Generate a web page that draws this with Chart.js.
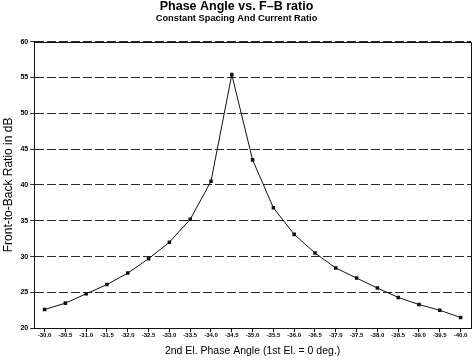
<!DOCTYPE html>
<html>
<head>
<meta charset="utf-8">
<script src="https://cdn.jsdelivr.net/npm/chart.js@4/dist/chart.umd.min.js"></script>
<style>
  html, body { margin: 0; padding: 0; background: #fff; }
  canvas { display: block; }
</style>
</head>
<body>
<canvas id="fb-chart" width="475" height="361"></canvas>
<script>
// phase angle of 2nd element (deg)
const phaseAngles = ['-30.0', '-30.5', '-31.0', '-31.5', '-32.0', '-32.5', '-33.0', '-33.5', '-34.0', '-34.5',
    '-35.0', '-35.5', '-36.0', '-36.5', '-37.0', '-37.5', '-38.0', '-38.5', '-39.0', '-39.5', '-40.0'];
// front-to-back ratio in dB
const fbRatio = [22.6, 23.5, 24.8, 26.1, 27.7, 29.7, 32.0, 35.2, 40.5, 55.4,
    43.5, 36.8, 33.1, 30.5, 28.4, 27.0, 25.6, 24.3, 23.3, 22.5, 21.5];
const yMin = 20, yMax = 60, yStep = 5;

const fontFam = '"Liberation Sans", Arial, Helvetica, sans-serif';

// solid frame on top and right of the plot area
const framePlugin = {
    id: 'frame',
    afterDraw(chart) {
        const a = chart.chartArea;
        const ctx = chart.ctx;
        ctx.save();
        ctx.strokeStyle = '#111';
        ctx.lineWidth = 1;
        ctx.beginPath();
        ctx.moveTo(a.left, Math.round(a.top) + 0.5);
        ctx.lineTo(Math.round(a.right) + 0.5, Math.round(a.top) + 0.5);
        ctx.lineTo(Math.round(a.right) + 0.5, a.bottom);
        ctx.stroke();
        ctx.restore();
    }
};

new Chart(document.getElementById('fb-chart'), {
    type: 'line',
    data: {
        labels: phaseAngles,
        datasets: [{
            label: 'F/B',
            data: fbRatio,
            borderColor: '#111',
            borderWidth: 1,
            backgroundColor: '#111',
            pointStyle: 'rect',
            pointRadius: 2.5,
            pointBorderWidth: 0,
            tension: 0
        }]
    },
    options: {
        responsive: false,
        animation: false,
        devicePixelRatio: 1,
        layout: { padding: { top: 0, right: 3, left: 1, bottom: 0 } },
        plugins: {
            legend: { display: false },
            tooltip: { enabled: false },
            title: {
                display: true,
                text: 'Phase Angle vs. F\u2013B ratio',
                color: '#000',
                font: { family: fontFam, size: 12.5, weight: 'bold', lineHeight: 1 },
                padding: { top: 0, bottom: 0 }
            },
            subtitle: {
                display: true,
                text: 'Constant Spacing And Current Ratio',
                color: '#000',
                font: { family: fontFam, size: 9.3, weight: 'bold' },
                padding: { top: 0, bottom: 18 }
            }
        },
        scales: {
            x: {
                offset: true,
                grid: { drawOnChartArea: false, color: '#111', tickLength: 4 },
                border: { color: '#111' },
                ticks: {
                    color: '#000', maxRotation: 0, autoSkip: false, padding: 0,
                    font: { family: fontFam, size: 6, weight: 'bold' }
                },
                title: {
                    display: true,
                    text: '2nd El. Phase Angle (1st El. = 0 deg.)',
                    color: '#000',
                    font: { family: fontFam, size: 10.5 },
                    padding: { top: 5, bottom: 4 }
                }
            },
            y: {
                min: yMin,
                max: yMax,
                grid: { color: '#2a2a2a', tickLength: 4, lineWidth: 1 },
                border: { color: '#111', dash: [9, 3] },
                ticks: {
                    stepSize: yStep, autoSkip: false,
                    color: '#000', padding: 2,
                    font: { family: fontFam, size: 7, weight: 'bold' }
                },
                title: {
                    display: true,
                    text: 'Front-to-Back Ratio in dB',
                    color: '#000',
                    font: { family: fontFam, size: 12 },
                    padding: { top: 0, bottom: 3 }
                }
            }
        }
    },
    plugins: [framePlugin]
});
</script>
</body>
</html>
